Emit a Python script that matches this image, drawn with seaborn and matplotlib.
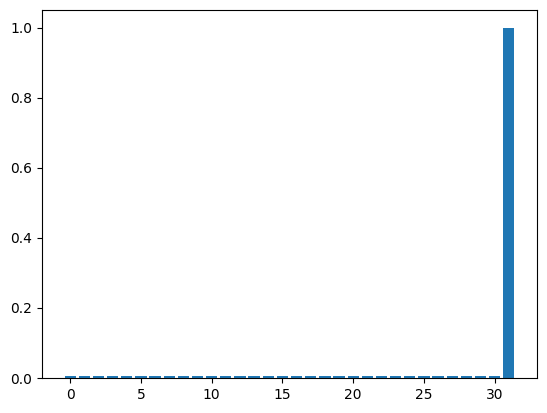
import matplotlib
matplotlib.use("Agg")
import matplotlib.pyplot as plt
import seaborn as sns
import numpy as np

positions = list(range(32))
values = [0.005] * 31 + [1.0]

fig = plt.figure(figsize=(5.47, 4.13), dpi=100)
ax = fig.add_axes([42/547, 1 - 378/413, (537 - 42)/547, (378 - 10.3)/413])
sns.barplot(x=positions, y=values, native_scale=True, color="#1f77b4",
            saturation=1, width=0.8, ax=ax, errorbar=None)
ax.set_xlabel("")
ax.set_ylabel("")
ax.set_xticks([0, 5, 10, 15, 20, 25, 30])
ax.set_xlim(-1.99, 32.99)
ax.set_ylim(0, 1.05)
fig.savefig("out.png", dpi=100)
